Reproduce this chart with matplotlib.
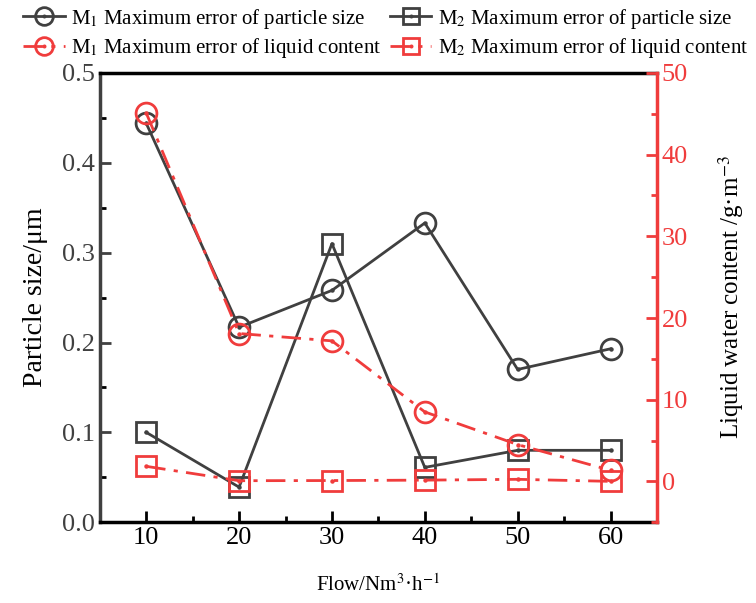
import matplotlib.pyplot as plt
import numpy as np
from matplotlib.ticker import MultipleLocator

plt.rcParams['font.family'] = ['Liberation Serif', 'DejaVu Serif']
plt.rcParams['mathtext.fontset'] = 'stix'

flow = [10, 20, 30, 40, 50, 60]
m1_size = [0.444, 0.217, 0.258, 0.333, 0.170, 0.193]
m2_size = [0.100, 0.039, 0.310, 0.061, 0.080, 0.080]
m1_liquid = [45.1, 18.1, 17.2, 8.5, 4.5, 1.35]
m2_liquid = [1.84, 0.08, 0.1, 0.15, 0.25, 0.0]

grey = '#404040'
red = '#f03c3c'
dashdot = (0, (7, 3, 1.5, 3))

fig = plt.figure(figsize=(7.56, 6.03), dpi=100)
ax = fig.add_axes([0.132, 0.134, 0.737, 0.745])
ax2 = ax.twinx()

def series(axis, x, y, color, ls, marker, ms):
    l1, = axis.plot(x, y, color=color, ls=ls, lw=2, marker=marker, ms=ms,
                    mfc='none', mec=color, mew=2)
    l2, = axis.plot(x, y, ls='none', marker='o', ms=2.2, color=color)
    return (l1, l2)

h1 = series(ax, flow, m1_size, grey, '-', 'o', 15)
h2 = series(ax, flow, m2_size, grey, '-', 's', 14)
h3 = series(ax2, flow, m1_liquid, red, dashdot, 'o', 15)
h4 = series(ax2, flow, m2_liquid, red, dashdot, 's', 14)

ax.set_xlim(5, 65)
ax.set_ylim(0, 0.5)

ax.xaxis.set_major_locator(MultipleLocator(10))
ax.xaxis.set_minor_locator(MultipleLocator(5))
ax.yaxis.set_major_locator(MultipleLocator(0.1))
ax.yaxis.set_minor_locator(MultipleLocator(0.05))
ax2.yaxis.set_major_locator(MultipleLocator(10))
ax2.yaxis.set_minor_locator(MultipleLocator(5))
ax2.set_yticks(np.arange(0, 51, 10))
ax2.set_ylim(-5, 50)

ax.tick_params(axis='both', which='both', direction='in', top=False, right=False, width=2)
ax.tick_params(axis='both', which='major', length=8, labelsize=19)
ax.tick_params(axis='both', which='minor', length=4)
ax.tick_params(axis='y', colors=grey)
ax.tick_params(axis='x', labelcolor='black', color='black')
ax2.tick_params(axis='y', which='both', direction='in', colors=red, width=2)
ax2.tick_params(axis='y', which='major', length=8, labelsize=19)
ax2.tick_params(axis='y', which='minor', length=4)

for s in ['top', 'bottom']:
    ax.spines[s].set_linewidth(2.5)
    ax2.spines[s].set_visible(False)
ax.spines['left'].set_linewidth(2.5)
ax.spines['left'].set_color(grey)
ax.spines['right'].set_visible(False)
ax2.spines['left'].set_visible(False)
ax2.spines['right'].set_color(red)
ax2.spines['right'].set_linewidth(2.5)

ax.set_ylabel('Particle size/μm', fontsize=20, labelpad=10)
ax.set_xlabel('Flow/Nm$^3$·h$^{-1}$', fontsize=15, labelpad=18)
ax2.set_ylabel('Liquid water content /g·m$^{-3}$', fontsize=18, labelpad=20)

labels = ['M$_1$ Maximum error of particle size', 'M$_1$ Maximum error of liquid content',
          'M$_2$ Maximum error of particle size', 'M$_2$ Maximum error of liquid content']
fig.legend([h1, h3, h2, h4], labels, loc='upper center', bbox_to_anchor=(0.51, 1.02),
           ncol=2, frameon=False, fontsize=15, handlelength=2.0, handletextpad=0.3,
           columnspacing=0.4, labelspacing=0.25, markerscale=0.85)

fig.savefig('out.png', dpi=100)
